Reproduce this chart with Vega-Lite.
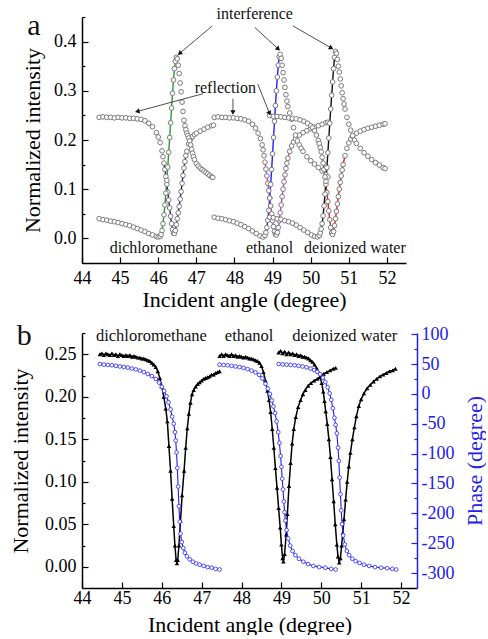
{
"$schema":"https://vega.github.io/schema/vega-lite/v6.json",
"background":"white",
"padding":{"left":9,"top":5,"right":0,"bottom":0},
"spacing":10,
"config":{"view":{"stroke":null},"font":"Liberation Serif",
 "axis":{"grid":false,"domainColor":"#000","domainWidth":1.5,"tickColor":"#000","tickWidth":1.2,"labelFont":"Liberation Serif","labelFontSize":18,"labelColor":"#000","titleFont":"Liberation Serif","titleFontSize":22,"titleFontWeight":"normal","titleColor":"#000","labelFlush":false,"labelOverlap":false}},
"datasets":{
"a":[
{"s":"dcm-R","x":44.45,"v":0.246},{"s":"dcm-R","x":44.55,"v":0.247},{"s":"dcm-R","x":44.65,"v":0.246},{"s":"dcm-R","x":44.75,"v":0.246},{"s":"dcm-R","x":44.85,"v":0.245},{"s":"dcm-R","x":44.95,"v":0.246},{"s":"dcm-R","x":45.05,"v":0.245},{"s":"dcm-R","x":45.15,"v":0.245},{"s":"dcm-R","x":45.25,"v":0.244},{"s":"dcm-R","x":45.35,"v":0.244},{"s":"dcm-R","x":45.45,"v":0.243},{"s":"dcm-R","x":45.55,"v":0.242},{"s":"dcm-R","x":45.65,"v":0.239},{"s":"dcm-R","x":45.75,"v":0.234},{"s":"dcm-R","x":45.85,"v":0.227},{"s":"dcm-R","x":45.95,"v":0.215},{"s":"dcm-R","x":46.0,"v":0.206},{"s":"dcm-R","x":46.05,"v":0.195},{"s":"dcm-R","x":46.1,"v":0.178},{"s":"dcm-R","x":46.125,"v":0.166},{"s":"dcm-R","x":46.15,"v":0.153},{"s":"dcm-R","x":46.175,"v":0.14},{"s":"dcm-R","x":46.2,"v":0.126},{"s":"dcm-R","x":46.225,"v":0.11},{"s":"dcm-R","x":46.25,"v":0.094},{"s":"dcm-R","x":46.275,"v":0.078},{"s":"dcm-R","x":46.3,"v":0.062},{"s":"dcm-R","x":46.325,"v":0.045},{"s":"dcm-R","x":46.35,"v":0.03},{"s":"dcm-R","x":46.375,"v":0.018},{"s":"dcm-R","x":46.4,"v":0.011},{"s":"dcm-R","x":46.425,"v":0.01},{"s":"dcm-R","x":46.45,"v":0.016},{"s":"dcm-R","x":46.475,"v":0.028},{"s":"dcm-R","x":46.5,"v":0.04},{"s":"dcm-R","x":46.525,"v":0.052},{"s":"dcm-R","x":46.55,"v":0.065},{"s":"dcm-R","x":46.575,"v":0.08},{"s":"dcm-R","x":46.6,"v":0.095},{"s":"dcm-R","x":46.625,"v":0.112},{"s":"dcm-R","x":46.65,"v":0.128},{"s":"dcm-R","x":46.675,"v":0.143},{"s":"dcm-R","x":46.7,"v":0.156},{"s":"dcm-R","x":46.725,"v":0.168},{"s":"dcm-R","x":46.75,"v":0.177},{"s":"dcm-R","x":46.8,"v":0.192},{"s":"dcm-R","x":46.85,"v":0.202},{"s":"dcm-R","x":46.9,"v":0.207},{"s":"dcm-R","x":46.95,"v":0.211},{"s":"dcm-R","x":47.0,"v":0.214},{"s":"dcm-R","x":47.1,"v":0.218},{"s":"dcm-R","x":47.2,"v":0.222},{"s":"dcm-R","x":47.3,"v":0.226},{"s":"dcm-R","x":47.4,"v":0.229},{"s":"dcm-R","x":47.45,"v":0.23},
{"s":"dcm-I","x":44.45,"v":0.04},{"s":"dcm-I","x":44.55,"v":0.038},{"s":"dcm-I","x":44.65,"v":0.037},{"s":"dcm-I","x":44.75,"v":0.035},{"s":"dcm-I","x":44.85,"v":0.034},{"s":"dcm-I","x":44.95,"v":0.032},{"s":"dcm-I","x":45.05,"v":0.03},{"s":"dcm-I","x":45.15,"v":0.028},{"s":"dcm-I","x":45.25,"v":0.026},{"s":"dcm-I","x":45.35,"v":0.023},{"s":"dcm-I","x":45.45,"v":0.02},{"s":"dcm-I","x":45.55,"v":0.017},{"s":"dcm-I","x":45.65,"v":0.014},{"s":"dcm-I","x":45.75,"v":0.01},{"s":"dcm-I","x":45.85,"v":0.007},{"s":"dcm-I","x":45.95,"v":0.004},{"s":"dcm-I","x":46.0,"v":0.003},{"s":"dcm-I","x":46.05,"v":0.004},{"s":"dcm-I","x":46.075,"v":0.008},{"s":"dcm-I","x":46.1,"v":0.016},{"s":"dcm-I","x":46.125,"v":0.03},{"s":"dcm-I","x":46.15,"v":0.048},{"s":"dcm-I","x":46.175,"v":0.068},{"s":"dcm-I","x":46.2,"v":0.092},{"s":"dcm-I","x":46.225,"v":0.118},{"s":"dcm-I","x":46.25,"v":0.145},{"s":"dcm-I","x":46.275,"v":0.175},{"s":"dcm-I","x":46.3,"v":0.205},{"s":"dcm-I","x":46.325,"v":0.235},{"s":"dcm-I","x":46.35,"v":0.265},{"s":"dcm-I","x":46.375,"v":0.295},{"s":"dcm-I","x":46.4,"v":0.322},{"s":"dcm-I","x":46.425,"v":0.345},{"s":"dcm-I","x":46.45,"v":0.36},{"s":"dcm-I","x":46.475,"v":0.368},{"s":"dcm-I","x":46.5,"v":0.365},{"s":"dcm-I","x":46.525,"v":0.352},{"s":"dcm-I","x":46.55,"v":0.335},{"s":"dcm-I","x":46.575,"v":0.316},{"s":"dcm-I","x":46.6,"v":0.298},{"s":"dcm-I","x":46.625,"v":0.277},{"s":"dcm-I","x":46.65,"v":0.258},{"s":"dcm-I","x":46.675,"v":0.24},{"s":"dcm-I","x":46.7,"v":0.229},{"s":"dcm-I","x":46.725,"v":0.221},{"s":"dcm-I","x":46.75,"v":0.214},{"s":"dcm-I","x":46.775,"v":0.209},{"s":"dcm-I","x":46.8,"v":0.204},{"s":"dcm-I","x":46.825,"v":0.198},{"s":"dcm-I","x":46.85,"v":0.19},{"s":"dcm-I","x":46.875,"v":0.181},{"s":"dcm-I","x":46.9,"v":0.173},{"s":"dcm-I","x":46.925,"v":0.166},{"s":"dcm-I","x":46.95,"v":0.16},{"s":"dcm-I","x":47.0,"v":0.152},{"s":"dcm-I","x":47.05,"v":0.147},{"s":"dcm-I","x":47.1,"v":0.143},{"s":"dcm-I","x":47.15,"v":0.14},{"s":"dcm-I","x":47.2,"v":0.137},{"s":"dcm-I","x":47.25,"v":0.134},{"s":"dcm-I","x":47.3,"v":0.131},{"s":"dcm-I","x":47.35,"v":0.128},{"s":"dcm-I","x":47.4,"v":0.125},{"s":"dcm-I","x":47.43,"v":0.124},
{"s":"eth-R","x":47.47,"v":0.246},{"s":"eth-R","x":47.57,"v":0.247},{"s":"eth-R","x":47.67,"v":0.246},{"s":"eth-R","x":47.77,"v":0.246},{"s":"eth-R","x":47.87,"v":0.245},{"s":"eth-R","x":47.97,"v":0.245},{"s":"eth-R","x":48.07,"v":0.244},{"s":"eth-R","x":48.17,"v":0.243},{"s":"eth-R","x":48.27,"v":0.241},{"s":"eth-R","x":48.37,"v":0.238},{"s":"eth-R","x":48.47,"v":0.232},{"s":"eth-R","x":48.55,"v":0.224},{"s":"eth-R","x":48.62,"v":0.214},{"s":"eth-R","x":48.68,"v":0.203},{"s":"eth-R","x":48.725,"v":0.19},{"s":"eth-R","x":48.75,"v":0.18},{"s":"eth-R","x":48.775,"v":0.168},{"s":"eth-R","x":48.8,"v":0.155},{"s":"eth-R","x":48.825,"v":0.141},{"s":"eth-R","x":48.85,"v":0.127},{"s":"eth-R","x":48.875,"v":0.112},{"s":"eth-R","x":48.9,"v":0.097},{"s":"eth-R","x":48.925,"v":0.082},{"s":"eth-R","x":48.95,"v":0.066},{"s":"eth-R","x":48.975,"v":0.05},{"s":"eth-R","x":49.0,"v":0.036},{"s":"eth-R","x":49.025,"v":0.024},{"s":"eth-R","x":49.05,"v":0.014},{"s":"eth-R","x":49.075,"v":0.008},{"s":"eth-R","x":49.1,"v":0.007},{"s":"eth-R","x":49.125,"v":0.012},{"s":"eth-R","x":49.15,"v":0.022},{"s":"eth-R","x":49.175,"v":0.036},{"s":"eth-R","x":49.2,"v":0.052},{"s":"eth-R","x":49.225,"v":0.068},{"s":"eth-R","x":49.25,"v":0.085},{"s":"eth-R","x":49.275,"v":0.1},{"s":"eth-R","x":49.3,"v":0.115},{"s":"eth-R","x":49.325,"v":0.129},{"s":"eth-R","x":49.35,"v":0.142},{"s":"eth-R","x":49.375,"v":0.153},{"s":"eth-R","x":49.4,"v":0.163},{"s":"eth-R","x":49.45,"v":0.177},{"s":"eth-R","x":49.5,"v":0.188},{"s":"eth-R","x":49.55,"v":0.196},{"s":"eth-R","x":49.6,"v":0.202},{"s":"eth-R","x":49.7,"v":0.21},{"s":"eth-R","x":49.8,"v":0.215},{"s":"eth-R","x":49.9,"v":0.219},{"s":"eth-R","x":50.0,"v":0.223},{"s":"eth-R","x":50.1,"v":0.226},{"s":"eth-R","x":50.2,"v":0.229},{"s":"eth-R","x":50.3,"v":0.232},{"s":"eth-R","x":50.4,"v":0.235},{"s":"eth-R","x":50.45,"v":0.236},
{"s":"eth-I","x":47.47,"v":0.043},{"s":"eth-I","x":47.57,"v":0.041},{"s":"eth-I","x":47.67,"v":0.04},{"s":"eth-I","x":47.77,"v":0.038},{"s":"eth-I","x":47.87,"v":0.036},{"s":"eth-I","x":47.97,"v":0.034},{"s":"eth-I","x":48.07,"v":0.031},{"s":"eth-I","x":48.17,"v":0.028},{"s":"eth-I","x":48.27,"v":0.024},{"s":"eth-I","x":48.37,"v":0.02},{"s":"eth-I","x":48.47,"v":0.015},{"s":"eth-I","x":48.57,"v":0.01},{"s":"eth-I","x":48.67,"v":0.005},{"s":"eth-I","x":48.75,"v":0.003},{"s":"eth-I","x":48.8,"v":0.006},{"s":"eth-I","x":48.825,"v":0.012},{"s":"eth-I","x":48.85,"v":0.022},{"s":"eth-I","x":48.875,"v":0.037},{"s":"eth-I","x":48.9,"v":0.057},{"s":"eth-I","x":48.925,"v":0.082},{"s":"eth-I","x":48.95,"v":0.11},{"s":"eth-I","x":48.975,"v":0.14},{"s":"eth-I","x":49.0,"v":0.172},{"s":"eth-I","x":49.025,"v":0.205},{"s":"eth-I","x":49.05,"v":0.238},{"s":"eth-I","x":49.075,"v":0.27},{"s":"eth-I","x":49.1,"v":0.3},{"s":"eth-I","x":49.125,"v":0.328},{"s":"eth-I","x":49.15,"v":0.352},{"s":"eth-I","x":49.175,"v":0.369},{"s":"eth-I","x":49.2,"v":0.374},{"s":"eth-I","x":49.225,"v":0.366},{"s":"eth-I","x":49.25,"v":0.352},{"s":"eth-I","x":49.275,"v":0.337},{"s":"eth-I","x":49.3,"v":0.322},{"s":"eth-I","x":49.325,"v":0.307},{"s":"eth-I","x":49.35,"v":0.292},{"s":"eth-I","x":49.375,"v":0.279},{"s":"eth-I","x":49.4,"v":0.268},{"s":"eth-I","x":49.45,"v":0.255},{"s":"eth-I","x":49.5,"v":0.242},{"s":"eth-I","x":49.55,"v":0.225},{"s":"eth-I","x":49.6,"v":0.21},{"s":"eth-I","x":49.65,"v":0.198},{"s":"eth-I","x":49.7,"v":0.19},{"s":"eth-I","x":49.75,"v":0.183},{"s":"eth-I","x":49.8,"v":0.177},{"s":"eth-I","x":49.9,"v":0.166},{"s":"eth-I","x":50.0,"v":0.158},{"s":"eth-I","x":50.1,"v":0.151},{"s":"eth-I","x":50.2,"v":0.144},{"s":"eth-I","x":50.3,"v":0.137},{"s":"eth-I","x":50.4,"v":0.129},{"s":"eth-I","x":50.45,"v":0.125},
{"s":"wat-R","x":48.92,"v":0.25},{"s":"wat-R","x":49.02,"v":0.248},{"s":"wat-R","x":49.12,"v":0.248},{"s":"wat-R","x":49.22,"v":0.247},{"s":"wat-R","x":49.32,"v":0.246},{"s":"wat-R","x":49.42,"v":0.245},{"s":"wat-R","x":49.52,"v":0.244},{"s":"wat-R","x":49.62,"v":0.243},{"s":"wat-R","x":49.72,"v":0.241},{"s":"wat-R","x":49.82,"v":0.238},{"s":"wat-R","x":49.92,"v":0.234},{"s":"wat-R","x":50.0,"v":0.229},{"s":"wat-R","x":50.05,"v":0.225},{"s":"wat-R","x":50.1,"v":0.219},{"s":"wat-R","x":50.15,"v":0.21},{"s":"wat-R","x":50.2,"v":0.199},{"s":"wat-R","x":50.225,"v":0.193},{"s":"wat-R","x":50.25,"v":0.185},{"s":"wat-R","x":50.275,"v":0.176},{"s":"wat-R","x":50.3,"v":0.165},{"s":"wat-R","x":50.325,"v":0.153},{"s":"wat-R","x":50.35,"v":0.14},{"s":"wat-R","x":50.375,"v":0.125},{"s":"wat-R","x":50.4,"v":0.11},{"s":"wat-R","x":50.425,"v":0.093},{"s":"wat-R","x":50.45,"v":0.075},{"s":"wat-R","x":50.475,"v":0.056},{"s":"wat-R","x":50.5,"v":0.038},{"s":"wat-R","x":50.525,"v":0.022},{"s":"wat-R","x":50.55,"v":0.011},{"s":"wat-R","x":50.575,"v":0.008},{"s":"wat-R","x":50.6,"v":0.014},{"s":"wat-R","x":50.625,"v":0.026},{"s":"wat-R","x":50.65,"v":0.04},{"s":"wat-R","x":50.675,"v":0.055},{"s":"wat-R","x":50.7,"v":0.07},{"s":"wat-R","x":50.725,"v":0.085},{"s":"wat-R","x":50.75,"v":0.1},{"s":"wat-R","x":50.775,"v":0.114},{"s":"wat-R","x":50.8,"v":0.127},{"s":"wat-R","x":50.825,"v":0.139},{"s":"wat-R","x":50.85,"v":0.15},{"s":"wat-R","x":50.9,"v":0.168},{"s":"wat-R","x":50.95,"v":0.183},{"s":"wat-R","x":51.0,"v":0.194},{"s":"wat-R","x":51.05,"v":0.202},{"s":"wat-R","x":51.1,"v":0.208},{"s":"wat-R","x":51.2,"v":0.214},{"s":"wat-R","x":51.3,"v":0.218},{"s":"wat-R","x":51.4,"v":0.221},{"s":"wat-R","x":51.5,"v":0.224},{"s":"wat-R","x":51.6,"v":0.226},{"s":"wat-R","x":51.7,"v":0.228},{"s":"wat-R","x":51.8,"v":0.23},{"s":"wat-R","x":51.9,"v":0.232},{"s":"wat-R","x":51.95,"v":0.233},
{"s":"wat-I","x":48.92,"v":0.043},{"s":"wat-I","x":49.02,"v":0.042},{"s":"wat-I","x":49.12,"v":0.04},{"s":"wat-I","x":49.22,"v":0.039},{"s":"wat-I","x":49.32,"v":0.036},{"s":"wat-I","x":49.42,"v":0.034},{"s":"wat-I","x":49.52,"v":0.031},{"s":"wat-I","x":49.62,"v":0.027},{"s":"wat-I","x":49.72,"v":0.022},{"s":"wat-I","x":49.82,"v":0.017},{"s":"wat-I","x":49.92,"v":0.012},{"s":"wat-I","x":50.02,"v":0.007},{"s":"wat-I","x":50.1,"v":0.004},{"s":"wat-I","x":50.175,"v":0.003},{"s":"wat-I","x":50.225,"v":0.006},{"s":"wat-I","x":50.25,"v":0.011},{"s":"wat-I","x":50.275,"v":0.019},{"s":"wat-I","x":50.3,"v":0.03},{"s":"wat-I","x":50.325,"v":0.046},{"s":"wat-I","x":50.35,"v":0.066},{"s":"wat-I","x":50.375,"v":0.09},{"s":"wat-I","x":50.4,"v":0.116},{"s":"wat-I","x":50.425,"v":0.144},{"s":"wat-I","x":50.45,"v":0.174},{"s":"wat-I","x":50.475,"v":0.204},{"s":"wat-I","x":50.5,"v":0.234},{"s":"wat-I","x":50.525,"v":0.263},{"s":"wat-I","x":50.55,"v":0.291},{"s":"wat-I","x":50.575,"v":0.318},{"s":"wat-I","x":50.6,"v":0.345},{"s":"wat-I","x":50.625,"v":0.368},{"s":"wat-I","x":50.65,"v":0.38},{"s":"wat-I","x":50.675,"v":0.376},{"s":"wat-I","x":50.7,"v":0.364},{"s":"wat-I","x":50.725,"v":0.35},{"s":"wat-I","x":50.75,"v":0.338},{"s":"wat-I","x":50.775,"v":0.324},{"s":"wat-I","x":50.8,"v":0.31},{"s":"wat-I","x":50.825,"v":0.296},{"s":"wat-I","x":50.85,"v":0.284},{"s":"wat-I","x":50.875,"v":0.273},{"s":"wat-I","x":50.9,"v":0.263},{"s":"wat-I","x":50.95,"v":0.246},{"s":"wat-I","x":51.0,"v":0.232},{"s":"wat-I","x":51.05,"v":0.22},{"s":"wat-I","x":51.1,"v":0.209},{"s":"wat-I","x":51.15,"v":0.2},{"s":"wat-I","x":51.2,"v":0.193},{"s":"wat-I","x":51.3,"v":0.183},{"s":"wat-I","x":51.4,"v":0.174},{"s":"wat-I","x":51.5,"v":0.167},{"s":"wat-I","x":51.6,"v":0.16},{"s":"wat-I","x":51.7,"v":0.154},{"s":"wat-I","x":51.8,"v":0.149},{"s":"wat-I","x":51.9,"v":0.144},{"s":"wat-I","x":51.95,"v":0.142}
],
"a_text":[{"label":"interference","x":48.53,"v":0.457},{"label":"reflection","x":47.76,"v":0.305},{"label":"dichloromethane","x":46.14,"v":-0.02},{"label":"ethanol","x":48.92,"v":-0.02},{"label":"deionized water","x":51.16,"v":-0.02}],
"a_arrows":[{"xs":47.42,"vs":0.432,"x":46.56,"v":0.376},{"xs":48.53,"vs":0.429,"x":49.15,"v":0.385},{"xs":49.53,"vs":0.432,"x":50.54,"v":0.387},{"xs":47.17,"vs":0.294,"x":45.45,"v":0.258},{"xs":47.96,"vs":0.284,"x":47.96,"v":0.256},{"xs":48.61,"vs":0.314,"x":48.92,"v":0.254}],
"b_int":[
{"s":"dcm","x":44.45,"v":0.25},{"s":"dcm","x":44.5,"v":0.251},{"s":"dcm","x":44.55,"v":0.249},{"s":"dcm","x":44.6,"v":0.251},{"s":"dcm","x":44.65,"v":0.25},{"s":"dcm","x":44.7,"v":0.249},{"s":"dcm","x":44.75,"v":0.251},{"s":"dcm","x":44.8,"v":0.249},{"s":"dcm","x":44.85,"v":0.25},{"s":"dcm","x":44.9,"v":0.248},{"s":"dcm","x":44.95,"v":0.25},{"s":"dcm","x":45.0,"v":0.249},{"s":"dcm","x":45.05,"v":0.248},{"s":"dcm","x":45.1,"v":0.249},{"s":"dcm","x":45.15,"v":0.248},{"s":"dcm","x":45.2,"v":0.249},{"s":"dcm","x":45.25,"v":0.247},{"s":"dcm","x":45.3,"v":0.248},{"s":"dcm","x":45.35,"v":0.247},{"s":"dcm","x":45.4,"v":0.246},{"s":"dcm","x":45.45,"v":0.246},{"s":"dcm","x":45.5,"v":0.245},{"s":"dcm","x":45.55,"v":0.245},{"s":"dcm","x":45.6,"v":0.244},{"s":"dcm","x":45.65,"v":0.243},{"s":"dcm","x":45.7,"v":0.242},{"s":"dcm","x":45.75,"v":0.24},{"s":"dcm","x":45.8,"v":0.238},{"s":"dcm","x":45.85,"v":0.235},{"s":"dcm","x":45.9,"v":0.23},{"s":"dcm","x":45.95,"v":0.222},{"s":"dcm","x":46.0,"v":0.212},{"s":"dcm","x":46.05,"v":0.2},{"s":"dcm","x":46.1,"v":0.186},{"s":"dcm","x":46.14,"v":0.171},{"s":"dcm","x":46.18,"v":0.142},{"s":"dcm","x":46.22,"v":0.113},{"s":"dcm","x":46.26,"v":0.08},{"s":"dcm","x":46.3,"v":0.048},{"s":"dcm","x":46.33,"v":0.025},{"s":"dcm","x":46.36,"v":0.008},{"s":"dcm","x":46.38,"v":0.004},{"s":"dcm","x":46.4,"v":0.008},{"s":"dcm","x":46.43,"v":0.025},{"s":"dcm","x":46.47,"v":0.054},{"s":"dcm","x":46.51,"v":0.084},{"s":"dcm","x":46.56,"v":0.113},{"s":"dcm","x":46.6,"v":0.14},{"s":"dcm","x":46.64,"v":0.163},{"s":"dcm","x":46.68,"v":0.18},{"s":"dcm","x":46.72,"v":0.193},{"s":"dcm","x":46.76,"v":0.203},{"s":"dcm","x":46.8,"v":0.208},{"s":"dcm","x":46.85,"v":0.212},{"s":"dcm","x":46.9,"v":0.215},{"s":"dcm","x":46.95,"v":0.217},{"s":"dcm","x":47.0,"v":0.219},{"s":"dcm","x":47.05,"v":0.221},{"s":"dcm","x":47.1,"v":0.222},{"s":"dcm","x":47.15,"v":0.223},{"s":"dcm","x":47.2,"v":0.224},{"s":"dcm","x":47.25,"v":0.226},{"s":"dcm","x":47.3,"v":0.226},{"s":"dcm","x":47.35,"v":0.228},{"s":"dcm","x":47.4,"v":0.229},{"s":"dcm","x":47.45,"v":0.23},
{"s":"eth","x":47.45,"v":0.248},{"s":"eth","x":47.5,"v":0.25},{"s":"eth","x":47.55,"v":0.248},{"s":"eth","x":47.6,"v":0.25},{"s":"eth","x":47.65,"v":0.249},{"s":"eth","x":47.7,"v":0.248},{"s":"eth","x":47.75,"v":0.25},{"s":"eth","x":47.8,"v":0.248},{"s":"eth","x":47.85,"v":0.249},{"s":"eth","x":47.9,"v":0.247},{"s":"eth","x":47.95,"v":0.248},{"s":"eth","x":48.0,"v":0.247},{"s":"eth","x":48.05,"v":0.246},{"s":"eth","x":48.1,"v":0.247},{"s":"eth","x":48.15,"v":0.246},{"s":"eth","x":48.2,"v":0.245},{"s":"eth","x":48.25,"v":0.245},{"s":"eth","x":48.3,"v":0.244},{"s":"eth","x":48.35,"v":0.243},{"s":"eth","x":48.4,"v":0.242},{"s":"eth","x":48.45,"v":0.24},{"s":"eth","x":48.5,"v":0.236},{"s":"eth","x":48.55,"v":0.229},{"s":"eth","x":48.6,"v":0.219},{"s":"eth","x":48.65,"v":0.207},{"s":"eth","x":48.69,"v":0.196},{"s":"eth","x":48.73,"v":0.182},{"s":"eth","x":48.77,"v":0.162},{"s":"eth","x":48.81,"v":0.14},{"s":"eth","x":48.85,"v":0.116},{"s":"eth","x":48.89,"v":0.093},{"s":"eth","x":48.93,"v":0.069},{"s":"eth","x":48.97,"v":0.046},{"s":"eth","x":49.0,"v":0.026},{"s":"eth","x":49.03,"v":0.01},{"s":"eth","x":49.05,"v":0.006},{"s":"eth","x":49.08,"v":0.015},{"s":"eth","x":49.12,"v":0.038},{"s":"eth","x":49.15,"v":0.062},{"s":"eth","x":49.19,"v":0.095},{"s":"eth","x":49.23,"v":0.122},{"s":"eth","x":49.27,"v":0.145},{"s":"eth","x":49.31,"v":0.162},{"s":"eth","x":49.36,"v":0.176},{"s":"eth","x":49.42,"v":0.188},{"s":"eth","x":49.48,"v":0.196},{"s":"eth","x":49.54,"v":0.203},{"s":"eth","x":49.6,"v":0.208},{"s":"eth","x":49.67,"v":0.213},{"s":"eth","x":49.74,"v":0.216},{"s":"eth","x":49.82,"v":0.219},{"s":"eth","x":49.9,"v":0.221},{"s":"eth","x":49.98,"v":0.224},{"s":"eth","x":50.06,"v":0.227},{"s":"eth","x":50.14,"v":0.229},{"s":"eth","x":50.22,"v":0.231},{"s":"eth","x":50.3,"v":0.233},{"s":"eth","x":50.36,"v":0.234},
{"s":"wat","x":48.93,"v":0.252},{"s":"wat","x":48.98,"v":0.254},{"s":"wat","x":49.03,"v":0.251},{"s":"wat","x":49.08,"v":0.253},{"s":"wat","x":49.13,"v":0.25},{"s":"wat","x":49.18,"v":0.252},{"s":"wat","x":49.23,"v":0.25},{"s":"wat","x":49.28,"v":0.251},{"s":"wat","x":49.33,"v":0.249},{"s":"wat","x":49.38,"v":0.25},{"s":"wat","x":49.43,"v":0.248},{"s":"wat","x":49.48,"v":0.249},{"s":"wat","x":49.53,"v":0.247},{"s":"wat","x":49.58,"v":0.247},{"s":"wat","x":49.63,"v":0.246},{"s":"wat","x":49.68,"v":0.245},{"s":"wat","x":49.73,"v":0.243},{"s":"wat","x":49.78,"v":0.241},{"s":"wat","x":49.83,"v":0.238},{"s":"wat","x":49.88,"v":0.234},{"s":"wat","x":49.93,"v":0.229},{"s":"wat","x":49.97,"v":0.223},{"s":"wat","x":50.01,"v":0.216},{"s":"wat","x":50.05,"v":0.206},{"s":"wat","x":50.08,"v":0.195},{"s":"wat","x":50.11,"v":0.183},{"s":"wat","x":50.15,"v":0.168},{"s":"wat","x":50.19,"v":0.15},{"s":"wat","x":50.23,"v":0.129},{"s":"wat","x":50.27,"v":0.103},{"s":"wat","x":50.31,"v":0.077},{"s":"wat","x":50.35,"v":0.05},{"s":"wat","x":50.39,"v":0.026},{"s":"wat","x":50.42,"v":0.012},{"s":"wat","x":50.45,"v":0.005},{"s":"wat","x":50.48,"v":0.01},{"s":"wat","x":50.51,"v":0.025},{"s":"wat","x":50.54,"v":0.04},{"s":"wat","x":50.57,"v":0.056},{"s":"wat","x":50.61,"v":0.079},{"s":"wat","x":50.65,"v":0.1},{"s":"wat","x":50.69,"v":0.118},{"s":"wat","x":50.73,"v":0.134},{"s":"wat","x":50.78,"v":0.15},{"s":"wat","x":50.83,"v":0.164},{"s":"wat","x":50.88,"v":0.177},{"s":"wat","x":50.94,"v":0.189},{"s":"wat","x":51.0,"v":0.197},{"s":"wat","x":51.07,"v":0.204},{"s":"wat","x":51.15,"v":0.21},{"s":"wat","x":51.23,"v":0.214},{"s":"wat","x":51.31,"v":0.218},{"s":"wat","x":51.39,"v":0.221},{"s":"wat","x":51.47,"v":0.224},{"s":"wat","x":51.55,"v":0.226},{"s":"wat","x":51.63,"v":0.228},{"s":"wat","x":51.71,"v":0.23},{"s":"wat","x":51.79,"v":0.231},{"s":"wat","x":51.86,"v":0.233}
],
"b_phase":[
{"s":"dcm","x":44.45,"p":50},{"s":"dcm","x":44.55,"p":49},{"s":"dcm","x":44.65,"p":48.5},{"s":"dcm","x":44.75,"p":48},{"s":"dcm","x":44.85,"p":47},{"s":"dcm","x":44.95,"p":46},{"s":"dcm","x":45.05,"p":45},{"s":"dcm","x":45.15,"p":44},{"s":"dcm","x":45.25,"p":42.5},{"s":"dcm","x":45.35,"p":41},{"s":"dcm","x":45.45,"p":39},{"s":"dcm","x":45.55,"p":36.5},{"s":"dcm","x":45.65,"p":33.5},{"s":"dcm","x":45.75,"p":30},{"s":"dcm","x":45.85,"p":25},{"s":"dcm","x":45.93,"p":19},{"s":"dcm","x":46.0,"p":12},{"s":"dcm","x":46.06,"p":5},{"s":"dcm","x":46.12,"p":-4},{"s":"dcm","x":46.17,"p":-14},{"s":"dcm","x":46.22,"p":-26},{"s":"dcm","x":46.26,"p":-38},{"s":"dcm","x":46.3,"p":-50},{"s":"dcm","x":46.33,"p":-64},{"s":"dcm","x":46.35,"p":-78},{"s":"dcm","x":46.37,"p":-98},{"s":"dcm","x":46.39,"p":-124},{"s":"dcm","x":46.41,"p":-155},{"s":"dcm","x":46.43,"p":-188},{"s":"dcm","x":46.45,"p":-214},{"s":"dcm","x":46.47,"p":-234},{"s":"dcm","x":46.5,"p":-248},{"s":"dcm","x":46.54,"p":-258},{"s":"dcm","x":46.58,"p":-266},{"s":"dcm","x":46.63,"p":-272},{"s":"dcm","x":46.7,"p":-277},{"s":"dcm","x":46.78,"p":-281},{"s":"dcm","x":46.86,"p":-284},{"s":"dcm","x":46.95,"p":-286},{"s":"dcm","x":47.05,"p":-288},{"s":"dcm","x":47.15,"p":-290},{"s":"dcm","x":47.25,"p":-291},{"s":"dcm","x":47.35,"p":-293},{"s":"dcm","x":47.45,"p":-294},
{"s":"eth","x":47.45,"p":49},{"s":"eth","x":47.55,"p":48.5},{"s":"eth","x":47.65,"p":48},{"s":"eth","x":47.75,"p":47},{"s":"eth","x":47.85,"p":46},{"s":"eth","x":47.95,"p":45},{"s":"eth","x":48.05,"p":43.5},{"s":"eth","x":48.15,"p":41.5},{"s":"eth","x":48.25,"p":39},{"s":"eth","x":48.35,"p":36},{"s":"eth","x":48.44,"p":32},{"s":"eth","x":48.52,"p":26},{"s":"eth","x":48.6,"p":17},{"s":"eth","x":48.66,"p":9},{"s":"eth","x":48.71,"p":0},{"s":"eth","x":48.76,"p":-11},{"s":"eth","x":48.8,"p":-21},{"s":"eth","x":48.84,"p":-32},{"s":"eth","x":48.88,"p":-46},{"s":"eth","x":48.92,"p":-64},{"s":"eth","x":48.95,"p":-82},{"s":"eth","x":48.98,"p":-104},{"s":"eth","x":49.0,"p":-122},{"s":"eth","x":49.02,"p":-142},{"s":"eth","x":49.04,"p":-160},{"s":"eth","x":49.06,"p":-180},{"s":"eth","x":49.08,"p":-198},{"s":"eth","x":49.1,"p":-212},{"s":"eth","x":49.13,"p":-228},{"s":"eth","x":49.17,"p":-242},{"s":"eth","x":49.22,"p":-254},{"s":"eth","x":49.28,"p":-263},{"s":"eth","x":49.35,"p":-270},{"s":"eth","x":49.44,"p":-276},{"s":"eth","x":49.55,"p":-281},{"s":"eth","x":49.67,"p":-285},{"s":"eth","x":49.8,"p":-288},{"s":"eth","x":49.95,"p":-290},{"s":"eth","x":50.1,"p":-291},{"s":"eth","x":50.25,"p":-293},{"s":"eth","x":50.36,"p":-294},
{"s":"wat","x":48.93,"p":50},{"s":"wat","x":49.03,"p":49.5},{"s":"wat","x":49.13,"p":49},{"s":"wat","x":49.23,"p":48.5},{"s":"wat","x":49.33,"p":48},{"s":"wat","x":49.43,"p":47},{"s":"wat","x":49.53,"p":46},{"s":"wat","x":49.63,"p":44.5},{"s":"wat","x":49.73,"p":42.5},{"s":"wat","x":49.82,"p":40},{"s":"wat","x":49.9,"p":37},{"s":"wat","x":49.97,"p":33},{"s":"wat","x":50.04,"p":27},{"s":"wat","x":50.1,"p":20},{"s":"wat","x":50.16,"p":11},{"s":"wat","x":50.21,"p":1},{"s":"wat","x":50.25,"p":-10},{"s":"wat","x":50.29,"p":-24},{"s":"wat","x":50.33,"p":-40},{"s":"wat","x":50.36,"p":-52},{"s":"wat","x":50.39,"p":-66},{"s":"wat","x":50.42,"p":-90},{"s":"wat","x":50.44,"p":-112},{"s":"wat","x":50.46,"p":-140},{"s":"wat","x":50.48,"p":-168},{"s":"wat","x":50.5,"p":-195},{"s":"wat","x":50.52,"p":-218},{"s":"wat","x":50.55,"p":-237},{"s":"wat","x":50.59,"p":-252},{"s":"wat","x":50.64,"p":-263},{"s":"wat","x":50.7,"p":-270},{"s":"wat","x":50.78,"p":-276},{"s":"wat","x":50.86,"p":-280},{"s":"wat","x":50.96,"p":-283},{"s":"wat","x":51.07,"p":-286},{"s":"wat","x":51.2,"p":-288},{"s":"wat","x":51.35,"p":-290},{"s":"wat","x":51.5,"p":-291},{"s":"wat","x":51.65,"p":-292},{"s":"wat","x":51.78,"p":-293},{"s":"wat","x":51.88,"p":-294}
],
"b_text":[{"label":"dichloromethane","x":45.74,"v":0.271},{"label":"ethanol","x":48.19,"v":0.271},{"label":"deionized water","x":50.59,"v":0.271}]
},
"vconcat":[
{
 "width":324,"height":246,
 "encoding":{
  "x":{"field":"x","type":"quantitative","scale":{"domain":[44,52.5],"nice":false,"zero":false},
   "axis":{"title":"Incident angle (degree)","values":[44,44.5,45,45.5,46,46.5,47,47.5,48,48.5,49,49.5,50,50.5,51,51.5,52,52.5],"format":"d","labelExpr":"datum.value % 1 === 0 ? datum.label : ''","labelFont":"Liberation Serif","titleFont":"Liberation Serif","tickSize":{"condition":{"test":"datum.value % 1 === 0","value":-6},"value":-3},"labelPadding":12,"titlePadding":2}},
  "y":{"field":"v","type":"quantitative","scale":{"domain":[-0.05,0.45],"nice":false,"zero":false},
   "axis":{"title":"Normalized intensity","values":[0,0.05,0.1,0.15,0.2,0.25,0.3,0.35,0.4,0.45],"format":".1f","labelExpr":"round(datum.value*100) % 10 === 0 ? datum.label : ''","labelFont":"Liberation Serif","titleFont":"Liberation Serif","tickSize":{"condition":{"test":"round(datum.value*100) % 10 === 0","value":-6},"value":-3},"labelPadding":12,"titlePadding":9}}
 },
 "layer":[
  {"data":{"name":"a"},
   "transform":[{"filter":"(datum.s==='dcm-I'&&datum.x>=46.05&&datum.x<=46.475)||(datum.s==='dcm-R'&&datum.x>=46.15&&datum.x<=46.75)||(datum.s==='eth-I'&&datum.x>=48.8&&datum.x<=49.2)||(datum.s==='eth-R'&&datum.x>=48.8&&datum.x<=49.5)||(datum.s==='wat-I'&&datum.x>=50.225&&datum.x<=50.65)||(datum.s==='wat-R'&&datum.x>=50.3&&datum.x<=50.9)"}],
   "mark":{"type":"line","strokeWidth":1.4},
   "encoding":{"color":{"field":"s","type":"nominal","legend":null,"scale":{"domain":["dcm-I","dcm-R","eth-I","eth-R","wat-I","wat-R"],"range":["#2e9a2e","#1e1e8a","#2020ff","#e030e0","#111111","#e02020"]}}}},
  {"data":{"name":"a"},
   "mark":{"type":"point","shape":"circle","size":22,"fill":"white","fillOpacity":1,"stroke":"#7a7a7a","strokeWidth":1,"opacity":1}},
  {"data":{"name":"a_arrows"},
   "mark":{"type":"rule","color":"#222","strokeWidth":0.8},
   "encoding":{"x2":{"field":"xs"},"y2":{"field":"vs"}}},
  {"data":{"name":"a_arrows"},
   "transform":[{"calculate":"atan2((datum.x-datum.xs)*38,(datum.v-datum.vs)*492.5)*180/PI","as":"ang"}],
   "mark":{"type":"point","shape":"triangle-up","filled":true,"color":"#111","size":28,"opacity":1},
   "encoding":{"angle":{"field":"ang","type":"quantitative","scale":null}}},
  {"data":{"name":"a_text"},
   "mark":{"type":"text","font":"Liberation Serif","fontSize":16,"color":"#111","baseline":"middle","align":"center"},
   "encoding":{"text":{"field":"label"}}},
  {"data":{"values":[{"label":"a","x":42.74,"v":0.432}]},
   "mark":{"type":"text","font":"Liberation Serif","fontSize":30,"color":"#111","baseline":"middle","align":"center"},
   "encoding":{"text":{"field":"label"}}}
 ]
},
{
 "width":335,"height":255,
 "encoding":{
  "x":{"field":"x","type":"quantitative","scale":{"domain":[44,52.4],"nice":false,"zero":false},
   "axis":{"title":"Incident angle (degree)","values":[44,44.5,45,45.5,46,46.5,47,47.5,48,48.5,49,49.5,50,50.5,51,51.5,52],"format":"d","labelExpr":"datum.value % 1 === 0 ? datum.label : ''","labelFont":"Liberation Serif","titleFont":"Liberation Serif","tickSize":{"condition":{"test":"datum.value % 1 === 0","value":-6},"value":-3},"labelPadding":7,"titlePadding":7}}
 },
 "layer":[
  {
   "encoding":{"y":{"field":"v","type":"quantitative","scale":{"domain":[-0.025,0.275],"nice":false,"zero":false},
    "axis":{"title":"Normalized intensity","values":[0,0.025,0.05,0.075,0.1,0.125,0.15,0.175,0.2,0.225,0.25,0.275],"format":".2f","labelExpr":"round(datum.value*1000) % 50 === 0 ? datum.label : ''","labelFont":"Liberation Serif","titleFont":"Liberation Serif","tickSize":{"condition":{"test":"round(datum.value*1000) % 50 === 0","value":-6},"value":-3},"labelPadding":12,"titlePadding":12}}},
   "layer":[
    {"data":{"name":"b_int"},"mark":{"type":"line","color":"#000","strokeWidth":1.5},"encoding":{"detail":{"field":"s"}}},
    {"data":{"name":"b_int"},"mark":{"type":"point","shape":"triangle-up","filled":true,"color":"#000","size":20,"opacity":1}},
    {"data":{"name":"b_text"},"mark":{"type":"text","font":"Liberation Serif","fontSize":16.5,"color":"#111","baseline":"middle","align":"center"},"encoding":{"text":{"field":"label"}}},
    {"data":{"values":[{"label":"b","x":42.55,"v":0.272}]},"mark":{"type":"text","font":"Liberation Serif","fontSize":30,"color":"#111","baseline":"middle","align":"center"},"encoding":{"text":{"field":"label"}}}
   ]
  },
  {
   "encoding":{"y":{"field":"p","type":"quantitative","scale":{"domain":[-325,102],"nice":false,"zero":false},
    "axis":{"orient":"right","title":"Phase (degree)","titleAngle":270,"values":[-300,-275,-250,-225,-200,-175,-150,-125,-100,-75,-50,-25,0,25,50,75,100],"labelExpr":"datum.value % 50 === 0 ? ('' + datum.value) : ''","labelFont":"Liberation Serif","titleFont":"Liberation Serif","tickSize":{"condition":{"test":"datum.value % 50 === 0","value":-6},"value":-3},"labelPadding":10,"titlePadding":33,"domainColor":"#2020f0","tickColor":"#2020f0","labelColor":"#2020f0","titleColor":"#2020f0"}}},
   "layer":[
    {"data":{"name":"b_phase"},"mark":{"type":"line","color":"#2020f0","strokeWidth":1.1},"encoding":{"detail":{"field":"s"}}},
    {"data":{"name":"b_phase"},"mark":{"type":"point","shape":"circle","size":14,"fill":"white","fillOpacity":1,"stroke":"#3a3aff","strokeWidth":0.9,"opacity":1}}
   ]
  }
 ],
 "resolve":{"scale":{"y":"independent"}}
}
]
}
